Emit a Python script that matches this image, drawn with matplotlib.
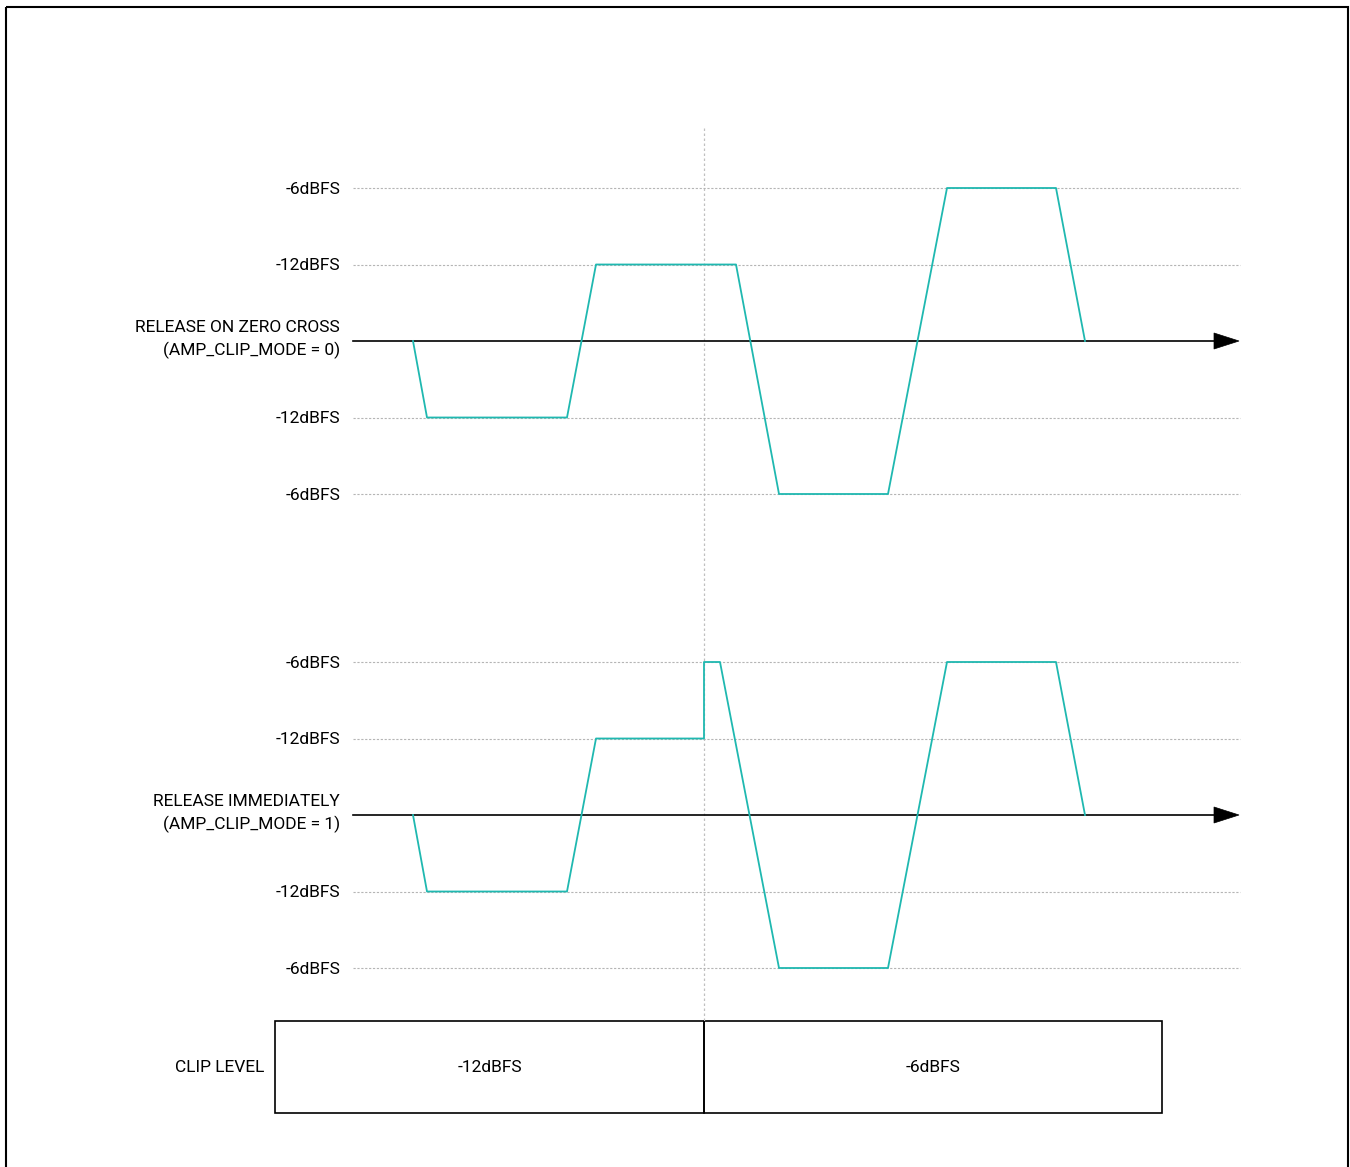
import matplotlib.pyplot as plt
from matplotlib.patches import Rectangle, Polygon

plt.rcParams['font.family'] = ['Roboto', 'Liberation Sans', 'DejaVu Sans']

# waveform: time positions (px along the time axis) and levels
# level steps: 0 = zero line, +-1 = -12dBFS, +-2 = -6dBFS
t_zero_cross = [413, 427, 567, 596, 736, 779, 888, 947, 1056, 1085]
lv_zero_cross = [0, -1, -1, 1, 1, -2, -2, 2, 2, 0]
t_immediate = [413, 427, 567, 596, 704, 704, 720, 779, 888, 947, 1056, 1085]
lv_immediate = [0, -1, -1, 1, 1, 2, 2, -2, -2, 2, 2, 0]

level_steps = [2, 1, -1, -2]
level_labels = ['-6dBFS', '-12dBFS', '-12dBFS', '-6dBFS']

panel_titles = [['RELEASE ON ZERO CROSS', '(AMP_CLIP_MODE = 0)'],
                ['RELEASE IMMEDIATELY', '(AMP_CLIP_MODE = 1)']]

clip_edges = [275, 704, 1162]
clip_labels = ['-12dBFS', '-6dBFS']

teal = '#1fb8b0'
step = 76.5
panel_base = [341, 815]
x_left, x_right = 353, 1240
fs = 12.5

fig = plt.figure(figsize=(13.5, 11.67), dpi=100)
ax = fig.add_axes([0, 0, 1, 1])
ax.set_xlim(0, 1350)
ax.set_ylim(1167, 0)
ax.axis('off')

# outer frame
ax.add_patch(Rectangle((5.5, 6.5), 1342, 1180, fill=False, lw=1.5, ec='black'))

# vertical divider
ax.plot([704, 704], [128, 1021], color='#c0c0c0', lw=0.9, ls=(0, (2, 2)))

waves = [(t_zero_cross, lv_zero_cross), (t_immediate, lv_immediate)]
for base, title, (t, lv) in zip(panel_base, panel_titles, waves):
    for s, lab in zip(level_steps, level_labels):
        y = base - s * step
        ax.plot([x_left, x_right], [y, y], color='#b5b5b5', lw=0.8, ls=(0, (2, 1.5)))
        ax.text(340, y + 1, lab, ha='right', va='center', fontsize=fs)
    # zero line with arrow
    ax.plot([x_left, 1216], [base, base], color='black', lw=1.2)
    ax.add_patch(Polygon([[1214, base - 8], [1239, base], [1214, base + 8]],
                         closed=True, fc='black', ec='black', lw=0.5))
    ax.text(340, base - 14, title[0], ha='right', va='center', fontsize=fs)
    ax.text(340, base + 9, title[1], ha='right', va='center', fontsize=fs)
    ax.plot(t, [base - v * step for v in lv], color=teal, lw=1.3, zorder=5)

# clip level box
box_top, box_bot = 1021, 1113
ax.text(264, 1068, 'CLIP LEVEL', ha='right', va='center', fontsize=fs)
for x0, x1, lab in zip(clip_edges[:-1], clip_edges[1:], clip_labels):
    ax.add_patch(Rectangle((x0, box_top), x1 - x0, box_bot - box_top,
                           fill=False, ec='black', lw=1.2))
    ax.text((x0 + x1) / 2, 1068, lab, ha='center', va='center', fontsize=fs)

fig.savefig('out.png', dpi=100)
